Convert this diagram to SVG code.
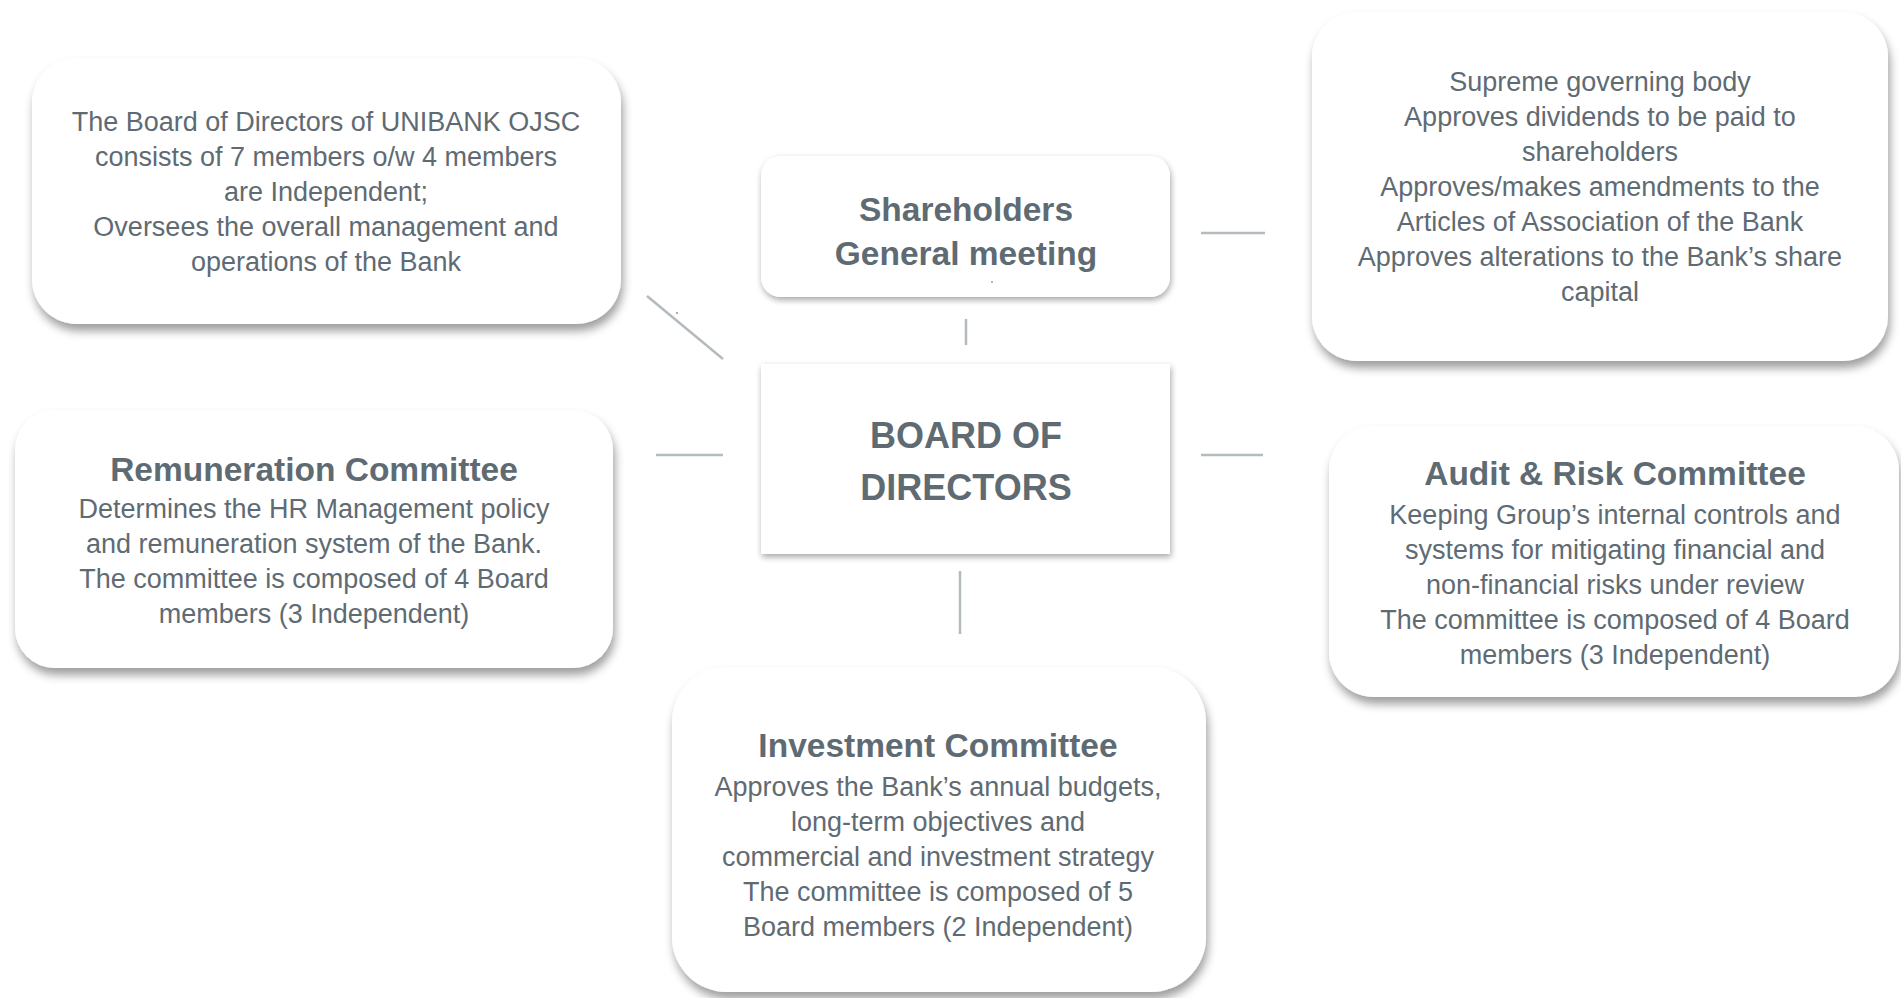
<svg xmlns="http://www.w3.org/2000/svg" width="1901" height="998" viewBox="0 0 1901 998">
<defs>
<filter id="sh" x="-10%" y="-10%" width="125%" height="130%">
<feDropShadow dx="2" dy="7" stdDeviation="5" flood-color="#000" flood-opacity="0.38"/>
</filter>
<filter id="sh2" x="-10%" y="-10%" width="120%" height="125%">
<feDropShadow dx="1" dy="3" stdDeviation="3" flood-color="#000" flood-opacity="0.35"/>
</filter>
<style>
.box{fill:#fff;filter:url(#sh)}
.t{font-family:"Liberation Sans",Arial,sans-serif;font-size:27px;fill:#5f6b73;text-anchor:middle}
.b{font-family:"Liberation Sans",Arial,sans-serif;font-weight:bold;font-size:33.5px;fill:#5f6b73;text-anchor:middle}
.big{font-size:36px}
.c{stroke:#b3bbbf;stroke-width:2.5;fill:none}
</style>
</defs>
<rect width="1901" height="998" fill="#fff"/>
<g id="connectors">
<line class="c" x1="647" y1="296" x2="723" y2="359"/>
<line class="c" x1="966" y1="319" x2="966" y2="345"/>
<line class="c" x1="1201" y1="233" x2="1265" y2="233"/>
<line class="c" x1="656" y1="455" x2="723" y2="455"/>
<line class="c" x1="1201" y1="455" x2="1263" y2="455"/>
<line class="c" x1="960" y1="571" x2="960" y2="634"/>
</g>
<g id="board-desc">
<rect class="box" x="32" y="58" width="589" height="266" rx="45"/>
<text class="t" x="326" y="131">The Board of Directors of UNIBANK OJSC</text>
<text class="t" x="326" y="166">consists of 7 members o/w 4 members</text>
<text class="t" x="326" y="201">are Independent;</text>
<text class="t" x="326" y="236">Oversees the overall management and</text>
<text class="t" x="326" y="271">operations of the Bank</text>
<circle cx="677" cy="313" r="1" fill="#8a9498"/>
</g>
<g id="shareholders">
<rect class="box" x="761" y="156" width="409" height="141" rx="20" style="filter:url(#sh2)"/>
<text class="b" x="966" y="221">Shareholders</text>
<text class="b" x="966" y="265">General meeting</text>
<circle cx="992" cy="282" r="0.9" fill="#8a9498"/>
</g>
<g id="shareholders-desc">
<rect class="box" x="1312" y="12" width="576" height="349" rx="45"/>
<text class="t" x="1600" y="91">Supreme governing body</text>
<text class="t" x="1600" y="126">Approves dividends to be paid to</text>
<text class="t" x="1600" y="161">shareholders</text>
<text class="t" x="1600" y="196">Approves/makes amendments to the</text>
<text class="t" x="1600" y="231">Articles of Association of the Bank</text>
<text class="t" x="1600" y="266">Approves alterations to the Bank’s share</text>
<text class="t" x="1600" y="301">capital</text>
</g>
<g id="board">
<rect class="box" x="761" y="364" width="409" height="190" style="filter:url(#sh2)"/>
<text class="b big" x="966" y="448">BOARD OF</text>
<text class="b big" x="966" y="500">DIRECTORS</text>
</g>
<g id="remuneration">
<rect class="box" x="15" y="410" width="598" height="258" rx="40"/>
<text class="b" x="314" y="481">Remuneration Committee</text>
<text class="t" x="314" y="518">Determines the HR Management policy</text>
<text class="t" x="314" y="553">and remuneration system of the Bank.</text>
<text class="t" x="314" y="588">The committee is composed of 4 Board</text>
<text class="t" x="314" y="623">members (3 Independent)</text>
</g>
<g id="audit">
<rect class="box" x="1329" y="426" width="570" height="271" rx="45"/>
<text class="b" x="1615" y="485">Audit &amp; Risk Committee</text>
<text class="t" x="1615" y="524">Keeping Group’s internal controls and</text>
<text class="t" x="1615" y="559">systems for mitigating financial and</text>
<text class="t" x="1615" y="594">non-financial risks under review</text>
<text class="t" x="1615" y="629">The committee is composed of 4 Board</text>
<text class="t" x="1615" y="664">members (3 Independent)</text>
</g>
<g id="investment">
<rect class="box" x="672" y="667" width="534" height="325" rx="55"/>
<text class="b" x="938" y="757">Investment Committee</text>
<text class="t" x="938" y="796">Approves the Bank’s annual budgets,</text>
<text class="t" x="938" y="831">long-term objectives and</text>
<text class="t" x="938" y="866">commercial and investment strategy</text>
<text class="t" x="938" y="901">The committee is composed of 5</text>
<text class="t" x="938" y="936">Board members (2 Independent)</text>
</g>
</svg>
